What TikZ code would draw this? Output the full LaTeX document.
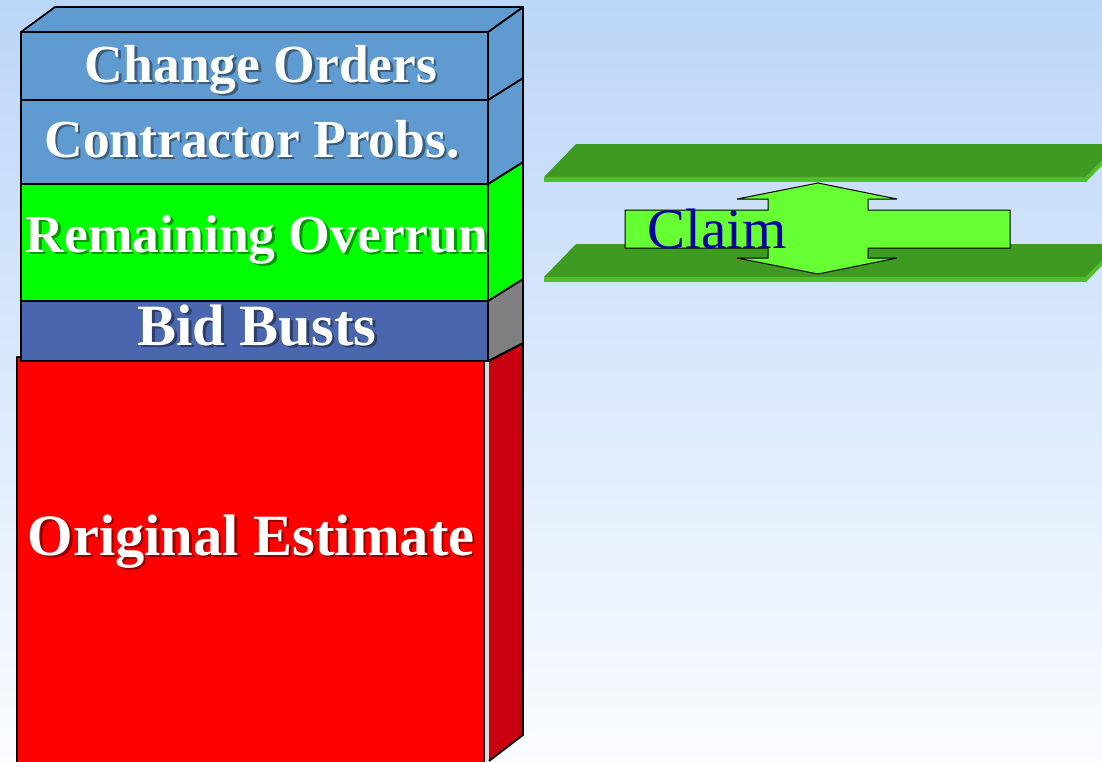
\documentclass[tikz,border=0pt]{standalone}
\usepackage{fontspec}
\setmainfont{Liberation Serif}
\usetikzlibrary{calc}

\definecolor{skytop}{RGB}{188,214,248}
\definecolor{skybot}{RGB}{250,252,255}
\definecolor{steel}{RGB}{95,155,208}
\definecolor{lime}{RGB}{0,255,0}
\definecolor{bidblue}{RGB}{74,102,174}
\definecolor{sidegray}{RGB}{128,128,128}
\definecolor{redside}{RGB}{200,0,15}
\definecolor{plank}{RGB}{62,154,32}
\definecolor{plankedge}{RGB}{80,190,40}
\definecolor{claimfill}{RGB}{102,255,51}
\definecolor{claimtext}{RGB}{0,0,160}

% white bold text with a soft grey drop shadow set on the box colour #1
\newcommand\shadowtext[2]{%
  \rlap{\kern2.5pt\raisebox{-2.5pt}{\color{black!40!#1}#2}}#2}

\tikzset{
  face/.style={draw=black, line width=1.8pt, line join=round},
  boxlabel/.style={text=white, font=\bfseries\fontsize{53.5}{60}\selectfont, anchor=base, inner sep=0pt},
  biglabel/.style={boxlabel, font=\bfseries\fontsize{58.5}{62}\selectfont},
}

\begin{document}
\begin{tikzpicture}[x=1pt, y=-1pt]
\useasboundingbox (0,0) rectangle (1102,761);
\clip (0,0) rectangle (1102,761);

% sky background
\shade[top color=skytop, bottom color=skybot] (0,0) rectangle (1102,761);

% two green planks
\foreach \t in {144,244}{
  \fill[plank] (576,\t) -- (1118,\t) -- (1086,\t+33) -- (544,\t+33) -- cycle;
  \fill[plankedge] (544,\t+33) -- (1086,\t+33) -- (1086,\t+38) -- (544,\t+38) -- cycle;
  \fill[plankedge] (1086,\t+33) -- (1118,\t) -- (1118,\t+5) -- (1086,\t+38) -- cycle;
}

% claim arrow: horizontal bar joined with a double-headed vertical arrow
\draw[fill=claimfill, draw=black, line width=1pt, line join=miter]
  (625,210) -- (768,210) -- (768,199) -- (737,199) -- (818,183) -- (897,199)
  -- (868,199) -- (868,210) -- (1010,210) -- (1010,248) -- (868,248)
  -- (868,258) -- (897,258) -- (818,274) -- (737,258) -- (768,258)
  -- (768,248) -- (625,248) -- cycle;
\node[text=claimtext, font=\fontsize{57}{60}\selectfont, anchor=base, inner sep=0pt]
  (claim) at (717,248) {Claim};

% original estimate block
\fill[white!85!black] (484,357) rectangle (489,761);
\draw[face, fill=red] (17,357) rectangle (484,770);
\draw[face, fill=redside] (489,361) -- (523,343) -- (523,735) -- (489,761);

% bid busts
\draw[face, fill=bidblue] (21,301) rectangle (488,361);
\draw[face, fill=sidegray] (488,361) -- (488,301) -- (523,279) -- (523,343) -- cycle;

% remaining overrun
\draw[face, fill=lime] (21,184) rectangle (488,301);
\draw[face, fill=lime] (488,301) -- (488,184) -- (523,162) -- (523,279) -- cycle;

% contractor problems
\draw[face, fill=steel] (21,100) rectangle (488,184);
\draw[face, fill=steel] (488,184) -- (488,100) -- (523,78) -- (523,162) -- cycle;

% change orders, with the top face
\draw[face, fill=steel] (21,32) rectangle (488,100);
\draw[face, fill=steel] (488,100) -- (488,32) -- (523,7) -- (523,78) -- cycle;
\draw[face, fill=steel] (21,32) -- (55,7) -- (523,7) -- (488,32) -- cycle;

% labels
\node[boxlabel] (co) at (261,82) {\shadowtext{steel}{Change Orders}};
\node[boxlabel] (cp) at (252,157) {\shadowtext{steel}{Contractor Probs.}};
\node[boxlabel] (ro) at (257,252) {\shadowtext{lime}{Remaining Overrun}};
\node[biglabel] (bb) at (257,345) {\shadowtext{bidblue}{Bid Busts}};
\node[biglabel] (oe) at (251,555) {\shadowtext{red}{Original Estimate}};
\end{tikzpicture}
\end{document}
